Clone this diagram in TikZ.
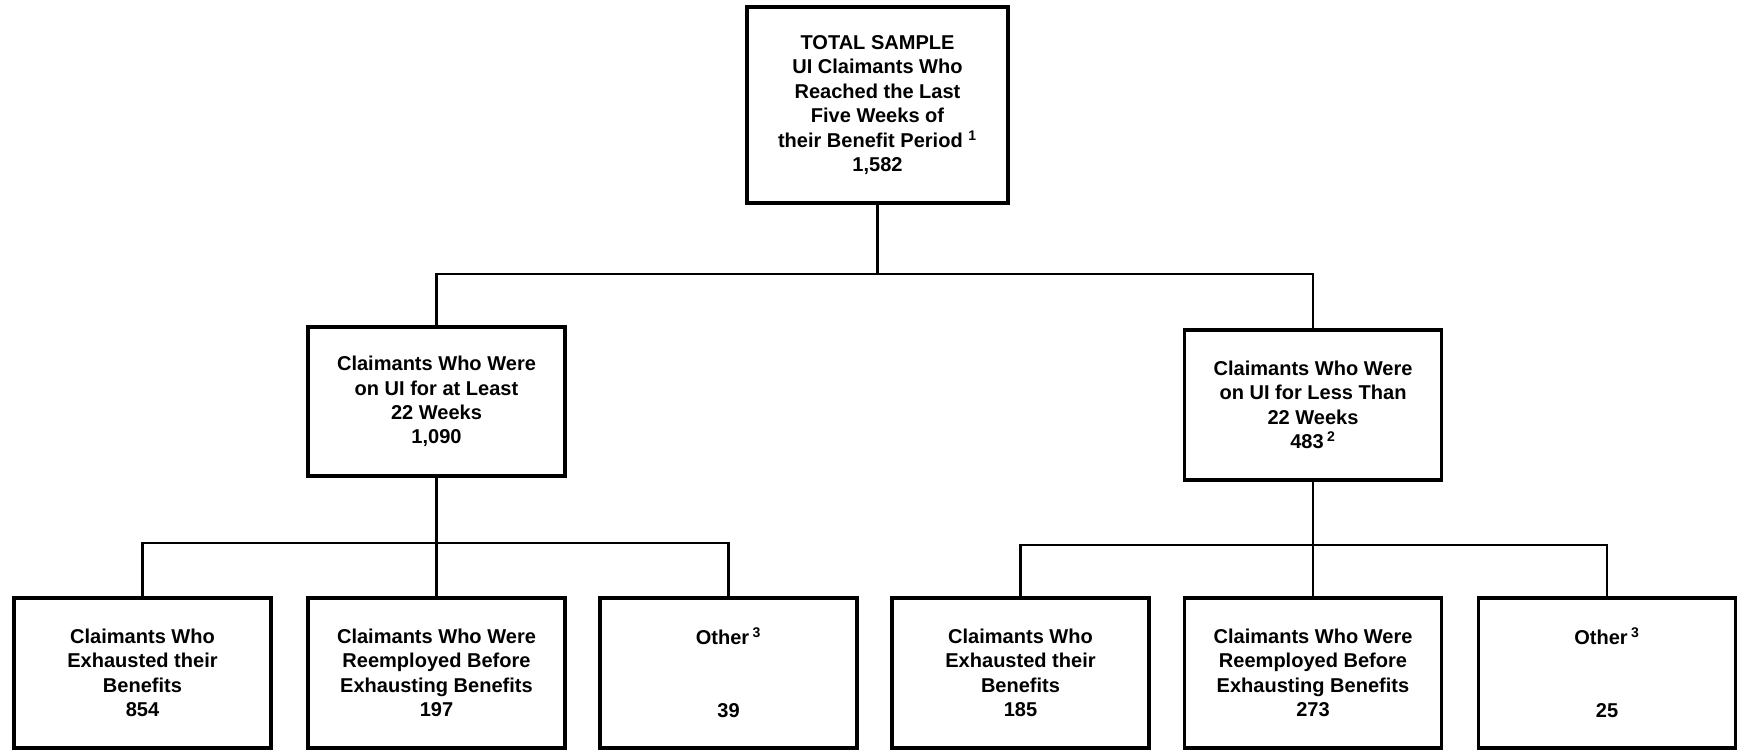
\documentclass[tikz,border=0pt]{standalone}
\usepackage{fontspec}
\setmainfont{Liberation Sans}
\usetikzlibrary{calc}
\tikzstyle{claimbox}=[draw, line width=1.9pt, align=center, inner sep=0pt, minimum width=5.14cm, minimum height=3cm, font=\bfseries\fontsize{11.4}{13.9}\selectfont]
\tikzstyle{branch}=[line width=1.2pt]
\newcommand{\fnmark}[1]{\,\textsuperscript{#1}}

\begin{document}
\begin{tikzpicture}[x=0.02cm,y=-0.02cm]
  \useasboundingbox (0,0) rectangle (1738,751);
  % whole sample
  \node[claimbox, minimum width=5.22cm, minimum height=3.92cm] (total) at (877.5,105) {TOTAL SAMPLE\\UI Claimants Who\\Reached the Last\\Five Weeks of\\their Benefit Period \textsuperscript{1}\\1,582};
  % split by weeks on UI
  \node[claimbox, minimum height=2.98cm] (atleast) at (436.5,401.5) {Claimants Who Were\\on UI for at Least\\22 Weeks\\1,090};
  \node[claimbox] (lessthan) at (1313,405) {Claimants Who Were\\on UI for Less Than\\22 Weeks\\483\fnmark{2}};
  % outcomes
  \node[claimbox] (exhL) at (142.5,673) {Claimants Who\\Exhausted their\\Benefits\\854};
  \node[claimbox] (reempL) at (436.5,673) {Claimants Who Were\\Reemployed Before\\Exhausting Benefits\\197};
  \node[claimbox] (otherL) at (728.5,673) {Other\fnmark{3}\\[2\baselineskip]39};
  \node[claimbox] (exhR) at (1020.5,673) {Claimants Who\\Exhausted their\\Benefits\\185};
  \node[claimbox] (reempR) at (1313,673) {Claimants Who Were\\Reemployed Before\\Exhausting Benefits\\273};
  \node[claimbox] (otherR) at (1607,673) {Other\fnmark{3}\\[2\baselineskip]25};
  \coordinate (bustop) at (877.5,274);
  \coordinate (busL) at (436.5,543);
  \coordinate (busR) at (1313,545);
  \draw[branch] (total.south) -- (bustop);
  \draw[branch] (atleast.north) |- (bustop) -| (lessthan.north);
  \draw[branch] (atleast.south) -- (busL) -- (reempL.north);
  \draw[branch] (exhL.north) |- (busL) -| (otherL.north);
  \draw[branch] (lessthan.south) -- (busR) -- (reempR.north);
  \draw[branch] (exhR.north) |- (busR) -| (otherR.north);
\end{tikzpicture}
\end{document}
